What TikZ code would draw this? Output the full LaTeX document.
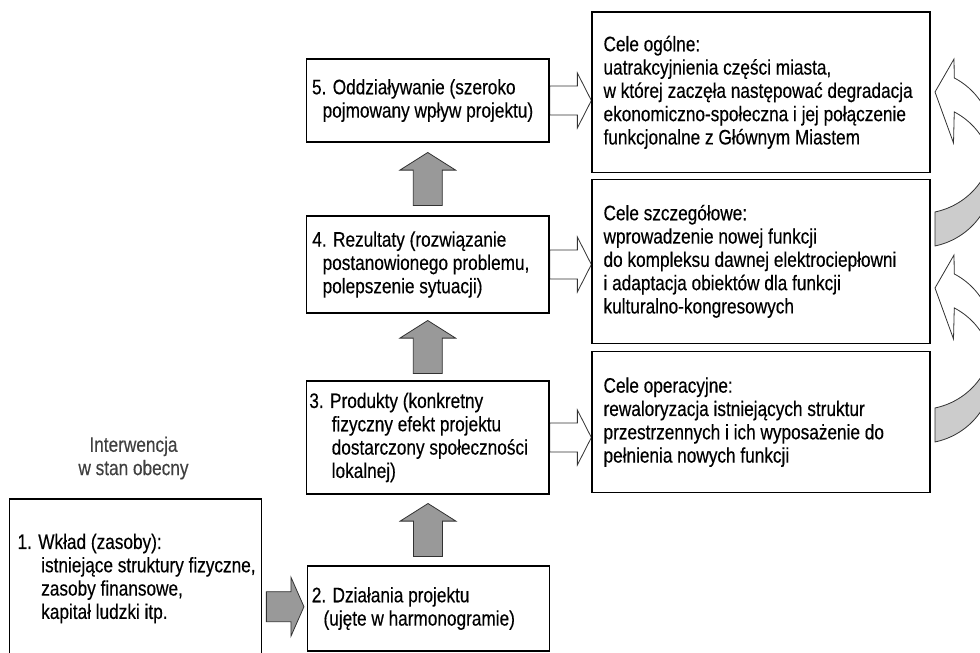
\documentclass[tikz,border=0pt]{standalone}
\usepackage{fontspec}
\setmainfont{Liberation Sans}[FakeStretch=0.82,FakeBold=0.35]
\usetikzlibrary{calc}
\definecolor{arrowgray}{RGB}{153,153,153}
\definecolor{backgray}{RGB}{204,204,204}
\definecolor{outline}{RGB}{50,50,50}
\pgfdeclarelayer{bg}
\pgfsetlayers{bg,main}
\begin{document}
\begin{tikzpicture}[x=1pt,y=-1pt,
  box/.style={draw=black, line width=1.3pt, fill=white, inner sep=0pt},
  txt/.style={inner sep=0pt, align=left, font=\fontsize{21pt}{23.3pt}\selectfont},
  grayarrow/.style={fill=arrowgray, draw=outline, line width=0.8pt},
  whitearrow/.style={fill=white, draw=outline, line width=0.8pt},
  ribbonfront/.style={fill=white, draw=outline, line width=0.8pt},
  ribbonback/.style={fill=backgray, draw=outline, line width=0.8pt},
]
\useasboundingbox (0,0) rectangle (980,653);
\clip (0,0) rectangle (980,653);

% boxes
\node[box, minimum width=242.5pt, minimum height=83pt] (b5) at (427.75,100.5) {};
\node[box, minimum width=242.5pt, minimum height=97pt] (b4) at (427.75,264.5) {};
\node[box, minimum width=242.5pt, minimum height=113pt] (b3) at (427.75,437.5) {};
\node[box, minimum width=242pt, minimum height=85pt] (b2) at (428.3,608.5) {};
\node[box, minimum width=252.4pt, minimum height=159pt] (b1) at (135.5,578.5) {};
\node[box, minimum width=338pt, minimum height=160.7pt] (r1) at (761,92.3) {};
\node[box, minimum width=338pt, minimum height=164pt] (r2) at (761,261.3) {};
\node[box, minimum width=338pt, minimum height=141pt] (r3) at (761,422.2) {};

% texts
\node[txt, anchor=west] (t5) at ($(b5.west)+(6,0)$) {5. Oddziaływanie (szeroko\\\hspace*{10.6pt}pojmowany wpływ projektu)};
\node[txt, anchor=west] (t4) at ($(b4.west)+(6.3,0)$) {4. Rezultaty (rozwiązanie\\\hspace*{10.3pt}postanowionego problemu,\\\hspace*{10.3pt}polepszenie sytuacji)};
\node[txt, anchor=west] (t3) at ($(b3.west)+(3.3,0)$) {3. Produkty (konkretny\\\hspace*{22.4pt}fizyczny efekt projektu\\\hspace*{22.4pt}dostarczony społeczności\\\hspace*{22.4pt}lokalnej)};
\node[txt, anchor=west] (t2) at ($(b2.west)+(5,0)$) {2. Działania projektu\\\hspace*{11.7pt}(ujęte w harmonogramie)};
\node[txt, anchor=west] (t1) at ($(b1.west)+(8.7,0)$) {1. Wkład (zasoby):\\\hspace*{23.7pt}istniejące struktury fizyczne,\\\hspace*{23.7pt}zasoby finansowe,\\\hspace*{23.7pt}kapitał ludzki itp.};
\node[txt, anchor=west] (s1) at ($(r1.west)+(12,0)$) {Cele ogólne:\\uatrakcyjnienia części miasta,\\w której zaczęła następować degradacja\\ekonomiczno-społeczna i jej połączenie\\funkcjonalne z Głównym Miastem};
\node[txt, anchor=west] (s2) at ($(r2.west)+(12,0)$) {Cele szczegółowe:\\wprowadzenie nowej funkcji\\do kompleksu dawnej elektrociepłowni\\i adaptacja obiektów dla funkcji\\kulturalno-kongresowych};
\node[txt, anchor=west] (s3) at ($(r3.west)+(12,0)$) {Cele operacyjne:\\rewaloryzacja istniejących struktur\\przestrzennych i ich wyposażenie do\\pełnienia nowych funkcji};
\node[txt, align=center, text=black!75] (iv) at (133.5,458) {Interwencja\\w stan obecny};

\begin{pgfonlayer}{bg}
% white arrows: project levels -> objectives
\foreach \a/\b in {b5/r1, b4/r2, b3/r3}{
  \filldraw[whitearrow] let \p1=(\a.east), \p2=(\b.west) in
    (\x1,\y1+14.5pt) -- (\x2-14pt,\y1+14.5pt) -- (\x2-14pt,\y1+27.5pt) -- (\x2,\y1)
    -- (\x2-14pt,\y1-27.5pt) -- (\x2-14pt,\y1-14.5pt) -- (\x1,\y1-14.5pt) -- cycle;
}
% gray up arrows
\foreach \lo/\hi in {b4/b5, b3/b4, b2/b3}{
  \filldraw[grayarrow] let \p1=($(\lo.north)!0.5!(\hi.south)$) in
    (\x1-14.5pt,\y1-26.5pt) -- (\x1-14.5pt,\y1+8.9pt) -- (\x1-27.85pt,\y1+8.9pt) -- (\x1,\y1+26.5pt)
    -- (\x1+27.85pt,\y1+8.9pt) -- (\x1+14.5pt,\y1+8.9pt) -- (\x1+14.5pt,\y1-26.5pt) -- cycle;
}
% input -> activities
\filldraw[grayarrow] let \p1=(b1.east), \p2=(b2.west) in
  (\x1+4pt,\y2+16.8pt) -- (\x2-15.7pt,\y2+16.8pt) -- (\x2-15.7pt,\y2+31.3pt) -- (\x2-2.7pt,\y2+1.8pt)
  -- (\x2-15.7pt,\y2-27.7pt) -- (\x2-15.7pt,\y2-13.2pt) -- (\x1+4pt,\y2-13.2pt) -- cycle;
\end{pgfonlayer}

% curved ribbon arrows on the right
\foreach \dy in {0,196}{
  \filldraw[ribbonback]
    plot[domain=13.65:78.1, samples=30, variable=\t] ({920+73*cos(\t)},{141.5+\dy+72*sin(\t)})
    -- plot[domain=78.1:-13.65, samples=40, variable=\t] ({920+73*cos(\t)},{175.5+\dy+72*sin(\t)})
    -- cycle;
  \filldraw[ribbonfront]
    (954,59+\dy) -- (935,92+\dy) -- (953.5,143+\dy)
    -- plot[domain=-62:-13.65, samples=30, variable=\t] ({920+73*cos(\t)},{175.5+\dy+72*sin(\t)})
    -- plot[domain=13.65:-62, samples=40, variable=\t] ({920+73*cos(\t)},{141.5+\dy+72*sin(\t)})
    -- cycle;
}
\end{tikzpicture}
\end{document}
